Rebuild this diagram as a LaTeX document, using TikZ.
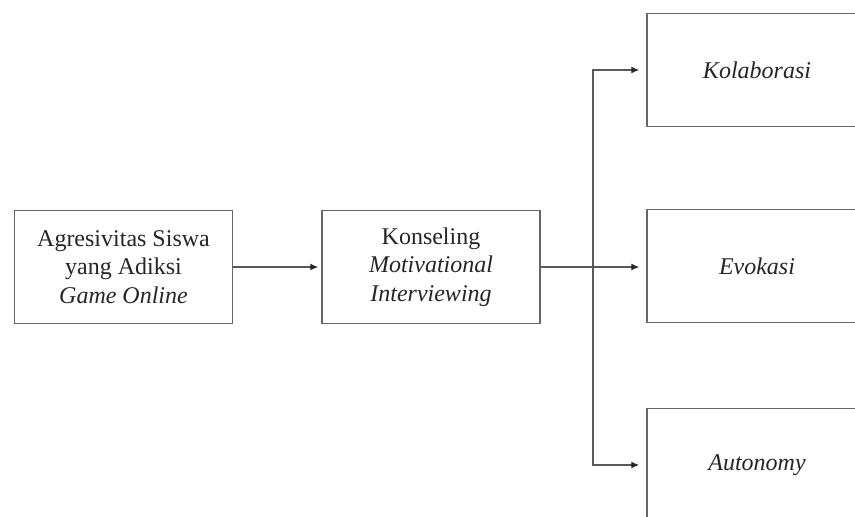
\documentclass[tikz,border=0pt]{standalone}
\usepackage{fontspec}
\setmainfont{Liberation Serif}
\usetikzlibrary{arrows.meta}
\begin{document}
\begin{tikzpicture}[x=1pt,y=-1pt,
  boxnode/.style={draw=black!60,line width=1.5pt,rectangle,minimum width=218pt,minimum height=113pt,
    align=center,text=black!85,font=\fontsize{24}{28.5}\selectfont,inner sep=0pt},
  conn/.style={draw=black!65,line width=1.3pt},
  arr/.style={conn,-{Latex[length=8pt,width=7pt,color=black!85]}}]
\useasboundingbox (0,0) rectangle (855,517);
\clip (0,0) rectangle (855,517);
\fill[white] (0,0) rectangle (855,517);
\node[boxnode] (b1) at (123.5,267) {Agresivitas Siswa\\yang Adiksi\\\textit{Game Online}};
\node[boxnode] (b2) at (431,267) {Konseling\\\textit{Motivational}\\\textit{Interviewing}};
\node[boxnode,minimum width=220pt] (b3) at (757,70) {\textit{Kolaborasi}};
\node[boxnode,minimum width=220pt] (b4) at (757,266) {\textit{Evokasi}};
\node[boxnode,minimum width=220pt] (b5) at (757,465) {\textit{Autonomy}};
\coordinate (j) at (593,267);
\draw[arr,shorten >=3pt] (b1.east) -- (b1.east -| b2.west);
\draw[arr,shorten >=7pt] (b2.east) -- (b2.east -| b4.west);
\draw[arr,shorten >=7pt] (j) |- (b3.west);
\draw[arr,shorten >=7pt] (j) |- (b5.west);
\end{tikzpicture}
\end{document}
